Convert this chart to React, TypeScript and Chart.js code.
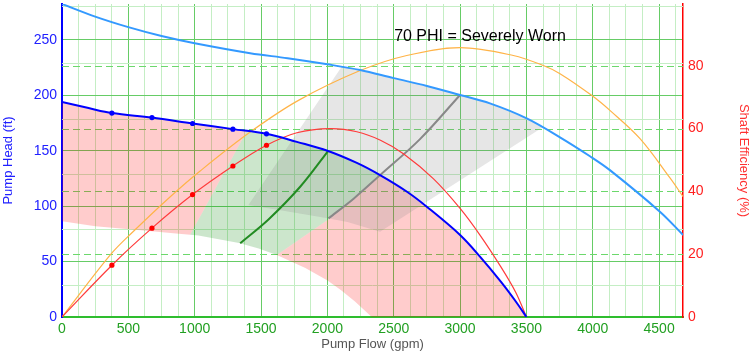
import React, { useEffect, useRef } from 'react';
import { Chart, registerables } from 'chart.js';

Chart.register(...registerables);

// ---------- axes ----------
const flowMax = 4680;
const headMax = 282.4;
const effMax = 99.7;
const flowGridValues = [0, 125, 250, 375, 500, 625, 750, 875, 1000, 1125, 1250, 1375, 1500, 1625, 1750, 1875, 2000, 2125, 2250, 2375, 2500, 2625, 2750, 2875, 3000, 3125, 3250, 3375, 3500, 3625, 3750, 3875, 4000, 4125, 4250, 4375, 4500, 4625];
const flowLabelValues = [0, 500, 1000, 1500, 2000, 2500, 3000, 3500, 4000, 4500];
const headTickValues = [0, 50, 100, 150, 200, 250];
const headMinorGridValues = [28.8, 79.2, 129, 179, 229.5, 281];
const effTickValues = [0, 20, 40, 60, 80];
const effDashedGridValues = [20, 40, 60, 80];

// ---------- curves ----------
// full-speed (light blue) head curve
const maxFlow = [0, 250, 500, 750, 1000, 1418, 1700, 2000, 2247, 2500, 2750, 3000, 3225, 3502, 3753, 3979, 4129, 4506, 4681];
const maxHead = [282.4, 271, 261.5, 253.5, 247, 238, 233.5, 228, 222.8, 215.5, 208.5, 200.3, 192.7, 179.2, 162.1, 145, 132.5, 95, 74];

// worn pump (dark blue) head curve
const wornFlow = [0, 200, 376, 678, 984, 1288, 1541, 1770, 2000, 2222, 2397, 2600, 2749, 3000, 3150, 3310, 3420, 3500];
const wornHead = [194, 188.5, 184, 179.9, 174.6, 169.5, 165.3, 158, 150, 139, 128, 113, 99.5, 74, 54.5, 31.5, 14, 0];

// test points
const testFlow = [376, 678, 984, 1288, 1541];
const testHead = [184, 179.9, 174.6, 169.5, 165.3];
const testEff = [16.5, 28.3, 39, 48.1, 54.7];

// worn efficiency (red)
const wornEffFlow = [0, 376, 678, 984, 1288, 1541, 1770, 2021, 2222, 2400, 2573, 2800, 3000, 3150, 3310, 3420, 3500];
const wornEff = [0, 16.5, 28.3, 39, 48.1, 54.7, 58.7, 60, 59, 56.3, 52, 44, 34.6, 26.1, 15.8, 7.8, 0];

// design efficiency (orange)
const designEffFlow = [0, 364, 539, 816, 1041, 1418, 1782, 2247, 2598, 3000, 3401, 3627, 3753, 3991, 4129, 4356, 4582, 4681];
const designEff = [0, 19.8, 27.3, 38.3, 46.5, 58.9, 69, 78.5, 83.3, 85.8, 83.3, 80.1, 77.5, 70.6, 65.8, 56.8, 44.3, 38.3];

// BEP lines
const wornBepFlow = [1343, 1556, 1795, 2005];
const wornBepHead = [66.5, 88, 117.5, 149.7];
const designBepFlow = [2008, 2200, 2397, 2698, 3000];
const designBepHead = [89, 107, 128, 160.5, 200.3];

// ---------- regions (flow, head) ----------
const pinkLeftRegion = [[0, 194], [200, 188.5], [376, 184], [678, 179.9], [984, 174.6], [1288, 169.5], [1393, 167.8], [966, 74.3], [859, 75.4], [656, 77.7], [251, 81.9], [0, 86.3], [0, 194]];
const greenRegion = [[966, 74.3], [1393, 167.8], [1541, 165.3], [1770, 158], [2000, 150], [2222, 139], [2397, 128], [2020, 89], [1619, 56], [1482, 61.9], [1334, 66.8], [1028, 73.6], [966, 74.3]];
const pinkRightRegion = [[1619, 56], [1834, 44.3], [2001, 32.9], [2101, 24.3], [2208, 14], [2334, 0], [3500, 0], [3420, 14], [3310, 31.5], [3150, 54.5], [3000, 74], [2749, 99.5], [2600, 113], [2397, 128], [2020, 89], [1619, 56]];
const grayRegion = [[1405, 101], [2110, 226.3], [2247, 222.8], [2500, 215.5], [2750, 208.5], [3000, 200.3], [3225, 192.7], [3502, 179.2], [3620, 171], [2397, 77], [2151, 85.8], [2001, 89.1], [1668, 95.9], [1405, 101]];

const annotationText = '70 PHI = Severely Worn';
const annotationFlow = 2503;
const annotationHead = 248.7;

// ---------- styles ----------
const MAJOR = '#66cc66';
const MINOR = '#c4eec4';
const DASHED = '#6cd86c';
const FONT = 'Arial, "Liberation Sans", sans-serif';

const xy = (f: number[], v: number[]) => f.map((x, i) => ({ x, y: v[i] }));
const pts = (r: number[][]) => r.map(([x, y]) => ({ x, y }));

const extraGrid = {
  id: 'extraGrid',
  beforeDatasetsDraw(chart: any) {
    const { ctx, chartArea: a, scales } = chart;
    ctx.save();
    ctx.lineWidth = 1;
    ctx.strokeStyle = MINOR;
    headMinorGridValues.forEach((v) => {
      const y = Math.round(scales.y.getPixelForValue(v)) + 0.5;
      ctx.beginPath();
      ctx.moveTo(a.left, y);
      ctx.lineTo(a.right, y);
      ctx.stroke();
    });
    ctx.strokeStyle = DASHED;
    ctx.setLineDash([7, 4]);
    effDashedGridValues.forEach((v) => {
      const y = Math.round(scales.y2.getPixelForValue(v)) + 0.5;
      ctx.beginPath();
      ctx.moveTo(a.left, y);
      ctx.lineTo(a.right, y);
      ctx.stroke();
    });
    ctx.restore();
  },
};

const phiLabel = {
  id: 'phiLabel',
  afterDatasetsDraw(chart: any) {
    const { ctx, scales } = chart;
    ctx.save();
    ctx.font = `16px ${FONT}`;
    ctx.fillStyle = '#000';
    ctx.textAlign = 'left';
    ctx.textBaseline = 'alphabetic';
    ctx.fillText(annotationText, scales.x.getPixelForValue(annotationFlow), scales.y.getPixelForValue(annotationHead));
    ctx.restore();
  },
};

const lineDs = (data: any[], color: string, width: number, yAxisID: string, order: number) => ({
  data, borderColor: color, borderWidth: width, pointRadius: 0, showLine: true,
  tension: 0.35, fill: false, yAxisID, order,
});
const regionDs = (data: any[], color: string, order: number) => ({
  data, backgroundColor: color, borderWidth: 0, borderColor: 'rgba(0,0,0,0)', pointRadius: 0,
  showLine: true, tension: 0, fill: 'shape', yAxisID: 'y', order,
});

export default function App() {
  const ref = useRef<HTMLCanvasElement>(null);
  useEffect(() => {
    document.body.style.margin = '0';
    Chart.defaults.font.family = FONT;
    const chart = new Chart(ref.current as HTMLCanvasElement, {
      type: 'scatter',
      data: {
        datasets: [
          { data: xy(testFlow, testHead), backgroundColor: '#0000ff', borderWidth: 0, pointRadius: 2.6, showLine: false, yAxisID: 'y', order: 0 } as any,
          { data: xy(testFlow, testEff), backgroundColor: '#ff0000', borderWidth: 0, pointRadius: 2.6, showLine: false, yAxisID: 'y2', order: 0 } as any,
          lineDs(xy(wornFlow, wornHead), '#0000ff', 2, 'y', 1),
          lineDs(xy(wornEffFlow, wornEff), '#ff3b3b', 1.2, 'y2', 2),
          lineDs(xy(maxFlow, maxHead), '#3399ff', 2, 'y', 3),
          lineDs(xy(designEffFlow, designEff), '#ffb347', 1.2, 'y2', 4),
          lineDs(xy(wornBepFlow, wornBepHead), '#228b22', 2, 'y', 5),
          lineDs(xy(designBepFlow, designBepHead), '#888888', 2, 'y', 6),
          regionDs(pts(grayRegion), 'rgba(128,128,128,0.2)', 10),
          regionDs(pts(greenRegion), 'rgba(0,128,0,0.2)', 11),
          regionDs(pts(pinkRightRegion), 'rgba(255,0,0,0.2)', 12),
          regionDs(pts(pinkLeftRegion), 'rgba(255,0,0,0.2)', 13),
        ] as any,
      },
      options: {
        animation: false,
        responsive: false,
        devicePixelRatio: 1,
        layout: { padding: { top: 3, left: 0, right: 0, bottom: 0 } },
        plugins: { legend: { display: false }, tooltip: { enabled: false } },
        scales: {
          x: {
            type: 'linear', position: 'bottom', min: 0, max: flowMax,
            afterBuildTicks: (s: any) => { s.ticks = flowGridValues.map((v) => ({ value: v })); },
            afterFit: (s: any) => { s.height = 38; s.paddingLeft = 0; s.paddingRight = 0; },
            grid: { color: (c: any) => (c.tick && flowLabelValues.includes(c.tick.value) ? MAJOR : MINOR), drawTicks: false, lineWidth: 1 },
            border: { color: '#2ebd2e', width: 2 },
            ticks: { autoSkip: false, maxRotation: 0, padding: 4, color: '#22a022', font: { size: 14 }, callback: (v: any) => (flowLabelValues.includes(v) ? String(v) : '') },
            title: { display: true, text: 'Pump Flow (gpm)', color: '#555555', font: { size: 13 }, padding: { top: 0, bottom: 3 } },
          },
          y: {
            type: 'linear', position: 'left', min: 0, max: headMax,
            afterBuildTicks: (s: any) => { s.ticks = headTickValues.map((v) => ({ value: v })); },
            afterFit: (s: any) => { s.width = 62; s.paddingTop = 0; s.paddingBottom = 0; },
            grid: { color: MAJOR, drawTicks: false, lineWidth: 1 },
            border: { color: '#0000ff', width: 2 },
            ticks: { padding: 5, color: '#2020ff', font: { size: 14 } },
            title: { display: true, text: 'Pump Head (ft)', color: '#2020ff', font: { size: 13 }, padding: { top: 1, bottom: 0 } },
          },
          y2: {
            type: 'linear', position: 'right', min: 0, max: effMax,
            afterBuildTicks: (s: any) => { s.ticks = effTickValues.map((v) => ({ value: v })); },
            afterFit: (s: any) => { s.width = 67; s.paddingTop = 0; s.paddingBottom = 0; },
            grid: { display: false, drawTicks: false },
            border: { color: '#ff0000', width: 1.5 },
            ticks: { padding: 5, color: '#ff2020', font: { size: 14 } },
            title: { display: true, text: 'Shaft Efficiency (%)', color: '#ff3030', font: { size: 13, lineHeight: 1 }, padding: { top: 0, bottom: 0 } },
          },
        },
      } as any,
      plugins: [extraGrid, phiLabel],
    });
    return () => chart.destroy();
  }, []);
  return (
    <div style={{ width: 750, height: 355 }}>
      <canvas ref={ref} width={750} height={355} style={{ display: 'block' }} />
    </div>
  );
}
